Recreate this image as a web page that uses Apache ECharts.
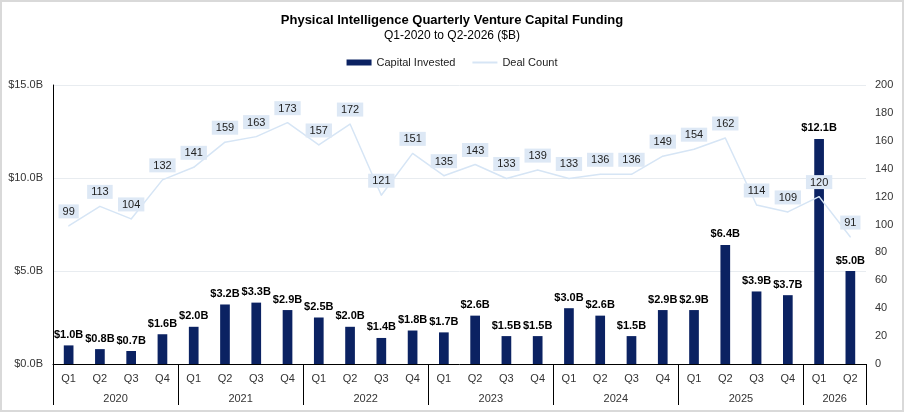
<!DOCTYPE html>
<html>
<head>
<meta charset="utf-8">
<script src="https://cdn.jsdelivr.net/npm/echarts@6/dist/echarts.min.js"></script>
<style>
  html, body { margin: 0; padding: 0; background: #fff; }
  #chart {
    width: 904px;
    height: 412px;
    box-sizing: border-box;
    border: 2px solid #d9d9d9;
  }
</style>
</head>
<body>
<div id="chart"></div>
<script>
  var years = ['2020', '2021', '2022', '2023', '2024', '2025', '2026'];
  var quartersPerYear = [4, 4, 4, 4, 4, 4, 2];
  var quarterNames = ['Q1', 'Q2', 'Q3', 'Q4'];

  // capital invested, $B
  var capital = [1.0, 0.8, 0.7, 1.6, 2.0, 3.2, 3.3, 2.9, 2.5, 2.0, 1.4, 1.8, 1.7,
    2.6, 1.5, 1.5, 3.0, 2.6, 1.5, 2.9, 2.9, 6.4, 3.9, 3.7, 12.1, 5.0];
  // number of deals
  var deals = [99, 113, 104, 132, 141, 159, 163, 173, 157, 172, 121, 151, 135,
    143, 133, 139, 133, 136, 136, 149, 154, 162, 114, 109, 120, 91];

  var quarters = [];
  var yearCenters = [];
  var pos = 0;
  years.forEach(function (y, i) {
    for (var q = 0; q < quartersPerYear[i]; q++) {
      quarters.push(quarterNames[q]);
    }
    yearCenters.push(pos + quartersPerYear[i] / 2);
    pos += quartersPerYear[i];
  });

  var FONT = '"Liberation Sans", Arial, sans-serif';
  var chart = echarts.init(document.getElementById('chart'));

  var option = {
    backgroundColor: '#fff',
    textStyle: { fontFamily: FONT },
    title: {
      text: 'Physical Intelligence Quarterly Venture Capital Funding',
      subtext: 'Q1-2020 to Q2-2026 ($B)',
      left: 'center',
      top: 7,
      itemGap: 3,
      textStyle: { fontFamily: FONT, fontSize: 13, fontWeight: 'bold', color: '#000' },
      subtextStyle: { fontFamily: FONT, fontSize: 12, color: '#000' },
    },
    legend: {
      top: 50,
      left: 'center',
      itemWidth: 25,
      itemHeight: 6,
      itemGap: 16,
      textStyle: { fontFamily: FONT, fontSize: 11, color: '#222' },
      data: [
        { name: 'Capital Invested', icon: 'rect' },
        { name: 'Deal Count', itemStyle: { opacity: 0 } },
      ],
    },
    grid: {
      left: 51,
      right: 36,
      top: 83,
      bottom: 46,
      containLabel: false,
    },
    xAxis: [
      {
        type: 'category',
        data: quarters,
        boundaryGap: true,
        axisLine: { lineStyle: { color: '#000', width: 1 } },
        axisTick: {
          show: true,
          length: 41,
          interval: function (index) { return index % 4 === 0; },
          lineStyle: { color: '#000', width: 1 },
        },
        axisLabel: { color: '#333', fontSize: 11, margin: 9, interval: 0 },
      },
      {
        type: 'value',
        position: 'bottom',
        offset: 20,
        min: 0,
        max: quarters.length,
        interval: 1,
        axisLine: { show: false },
        axisTick: { show: false },
        splitLine: { show: false },
        axisLabel: {
          color: '#333',
          fontSize: 11,
          margin: 9,
          formatter: function (v) {
            var i = yearCenters.indexOf(v);
            return i >= 0 ? years[i] : '';
          },
        },
      },
    ],
    yAxis: [
      {
        type: 'value',
        min: 0,
        max: 15,
        interval: 5,
        axisLine: { show: true, lineStyle: { color: '#000', width: 1 } },
        axisTick: { show: false },
        axisLabel: {
          color: '#333',
          fontSize: 11,
          margin: 10,
          formatter: function (v) { return '$' + v.toFixed(1) + 'B'; },
        },
        splitLine: { lineStyle: { color: '#e8ecf0' } },
      },
      {
        type: 'value',
        min: 0,
        max: 200,
        interval: 20,
        axisLine: { show: false },
        axisTick: { show: false },
        axisLabel: { color: '#333', fontSize: 11, margin: 9 },
        splitLine: { show: false },
      },
    ],
    series: [
      {
        name: 'Capital Invested',
        type: 'bar',
        data: capital,
        barWidth: '31%',
        itemStyle: { color: '#0b2262' },
        label: {
          show: true,
          position: 'top',
          distance: 5,
          fontFamily: FONT,
          fontSize: 11,
          fontWeight: 'bold',
          color: '#000',
          formatter: function (p) { return '$' + p.value.toFixed(1) + 'B'; },
        },
        z: 2,
      },
      {
        name: 'Deal Count',
        type: 'line',
        yAxisIndex: 1,
        data: deals,
        symbol: 'circle',
        symbolSize: 1,
        showSymbol: true,
        lineStyle: { color: '#d6e5f5', width: 1.5 },
        itemStyle: { color: '#d6e5f5' },
        label: {
          show: true,
          position: 'top',
          distance: 7,
          fontFamily: FONT,
          fontSize: 11,
          color: '#222',
          backgroundColor: '#dde8f5',
          padding: [2, 4, 1, 4],
        },
        z: 3,
      },
    ],
  };

  chart.setOption(option);
</script>
</body>
</html>
